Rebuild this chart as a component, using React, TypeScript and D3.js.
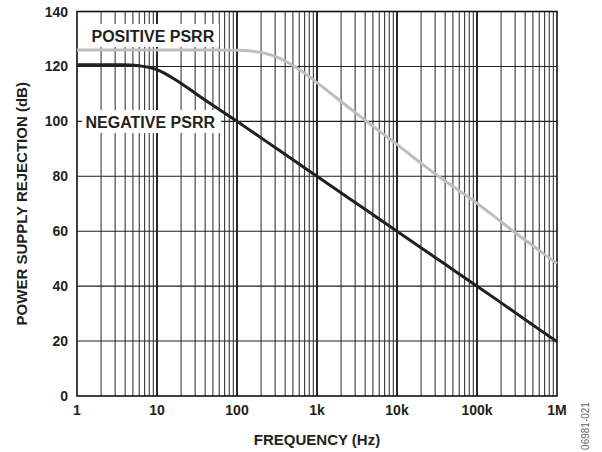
import React from "react";
import * as d3 from "d3";

const xTickValues = [1, 10, 100, 1000, 10000, 100000, 1000000];
const xTickLabels = ["1", "10", "100", "1k", "10k", "100k", "1M"];
const yTickValues = [0, 20, 40, 60, 80, 100, 120, 140];

const posFreq = [1, 3.16, 10, 31.6, 100, 178, 316, 562, 1000, 1778, 3162, 5623, 10000, 17783, 31623, 56234, 100000, 177828, 316228, 562341, 1000000];
const posDb = [126, 126, 126, 126, 125.9, 125.3, 123.4, 119.4, 114.1, 108.4, 102.7, 97.1, 91.6, 85.9, 80.4, 75.3, 70.2, 64.6, 59.0, 53.6, 48.2];

const negFreq = [1, 1.78, 3.16, 5.62, 10, 17.8, 31.6, 56.2, 100, 178, 316, 562, 1000, 1778, 3162, 5623, 10000, 17783, 31623, 56234, 100000, 177828, 316228, 562341, 1000000];
const negDb = [120.6, 120.6, 120.6, 120.3, 118.8, 114.8, 109.8, 104.9, 100, 95, 90, 85, 80, 75, 70, 65, 60, 55, 50, 45, 40, 35, 29.9, 24.8, 19.8];

const W = 602, H = 452;
const L = 77, R = 557, T = 11.5, B = 396;
const FONT = "'Liberation Sans', Arial, Helvetica, sans-serif";

export default function App() {
  const x = d3.scaleLog().domain([1, 1e6]).range([L, R]);
  const y = d3.scaleLinear().domain([0, 140]).range([B, T]);

  const minor: number[] = [];
  for (let d = 0; d < 6; d++) {
    for (let m = 2; m <= 9; m++) minor.push(m * Math.pow(10, d));
  }
  const major = xTickValues.slice(1, -1);

  const line = d3
    .line<[number, number]>()
    .x((d) => x(d[0]))
    .y((d) => y(d[1]))
    .curve(d3.curveCatmullRom.alpha(0.5));

  const posPath = line(posFreq.map((f, i) => [f, posDb[i]] as [number, number])) || "";
  const negPath = line(negFreq.map((f, i) => [f, negDb[i]] as [number, number])) || "";

  return (
    <svg width={W} height={H} style={{ position: "absolute", left: 0, top: 0, background: "#fff" }} fontFamily={FONT}>
      <rect x={0} y={0} width={W} height={H} fill="#fff" />
      {minor.map((f) => (
        <line key={"m" + f} x1={x(f)} x2={x(f)} y1={T} y2={B} stroke="#3a3a3a" strokeWidth={1.1} />
      ))}
      {major.map((f) => (
        <line key={"M" + f} x1={x(f)} x2={x(f)} y1={T} y2={B} stroke="#111" strokeWidth={1.8} />
      ))}
      {yTickValues.slice(1, -1).map((v) => (
        <line key={"h" + v} x1={L} x2={R} y1={y(v)} y2={y(v)} stroke="#222" strokeWidth={1.1} />
      ))}
      <rect x={L} y={T} width={R - L} height={B - T} fill="none" stroke="#111" strokeWidth={1.6} />

      <rect x={88} y={24} width={131} height={23} fill="#fff" />
      <rect x={82} y={110} width={139} height={23} fill="#fff" />

      <path d={posPath} fill="none" stroke="#bcbec0" strokeWidth={3} />
      <path d={negPath} fill="none" stroke="#231f20" strokeWidth={3} />

      <text x={91.5} y={41.5} fontSize={16} fontWeight="bold" fill="#231f20">POSITIVE PSRR</text>
      <text x={85.5} y={128} fontSize={16} fontWeight="bold" fill="#231f20">NEGATIVE PSRR</text>

      {yTickValues.map((v) => (
        <text key={"yt" + v} x={68} y={y(v)} dy="0.36em" textAnchor="end" fontSize={14} fontWeight="bold" fill="#231f20">
          {v}
        </text>
      ))}
      {xTickValues.map((v, i) => (
        <text key={"xt" + v} x={x(v)} y={415} textAnchor="middle" fontSize={14} fontWeight="bold" fill="#231f20">
          {xTickLabels[i]}
        </text>
      ))}
      <text x={(L + R) / 2} y={445} textAnchor="middle" fontSize={15} fontWeight="bold" fill="#231f20">
        FREQUENCY (Hz)
      </text>
      <text
        transform={`translate(26.5, ${(T + B) / 2}) rotate(-90)`}
        textAnchor="middle"
        fontSize={15}
        fontWeight="bold"
        fill="#231f20"
      >
        POWER SUPPLY REJECTION (dB)
      </text>
      <text transform={`translate(589, 426) rotate(-90)`} textAnchor="middle" fontSize={10} fill="#666">
        06981-021
      </text>
    </svg>
  );
}
